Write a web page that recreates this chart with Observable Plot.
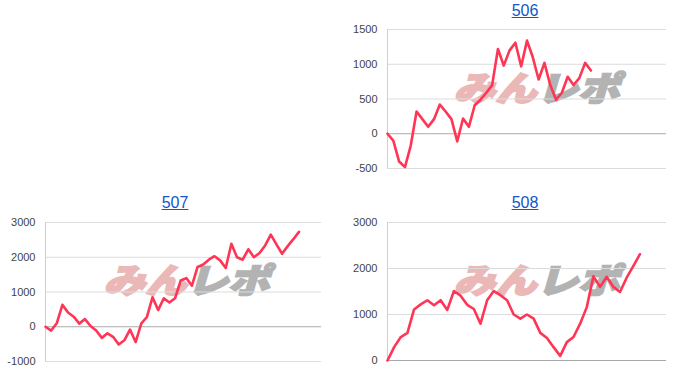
<!DOCTYPE html>
<html><head><meta charset="utf-8">
<script src="https://cdn.jsdelivr.net/npm/d3@7"></script>
<script src="https://cdn.jsdelivr.net/npm/@observablehq/plot@0.6"></script>
<style>
body{margin:0;background:#fff;font-family:"Liberation Sans",Arial,sans-serif;}
#grid{position:relative;width:700px;height:384px;overflow:hidden;}
.panel{position:absolute;width:350px;height:192px;}
.title{height:22px;line-height:22px;text-align:center;font-size:16px;position:relative;z-index:2;}
.title a{color:#1155cc;text-decoration:underline;}
.wm{position:absolute;left:108px;top:66px;z-index:0;white-space:nowrap;font-family:"Noto Sans CJK JP",sans-serif;font-weight:900;font-size:37px;line-height:40px;transform-origin:0 50%;transform:skewX(-16deg) scale(1.12,0.92);letter-spacing:0px;}
.wm .a{color:#ebb8b8;-webkit-text-stroke:2.2px #ebb8b8;}
.wm .b{color:#b3b3b3;-webkit-text-stroke:2.2px #b3b3b3;}
.chart{position:relative;z-index:1;}
</style></head>
<body>
<div id="grid"></div>
<script>
const titles = ["506", "507", "508"];
const chart506 = [0,-100,-400,-480,-170,320,210,100,210,420,320,210,-110,220,100,410,490,590,700,1220,980,1200,1310,970,1340,1100,780,1020,700,490,590,820,700,800,1020,910];
const chart507 = [0,-110,100,630,410,290,90,220,20,-110,-320,-190,-290,-510,-390,-80,-440,90,280,850,480,820,700,820,1330,1400,1180,1720,1790,1930,2030,1910,1690,2390,2000,1930,2230,2000,2120,2340,2650,2370,2100,2320,2520,2730];
const chart508 = [0,290,510,600,1110,1220,1310,1200,1310,1100,1510,1410,1210,1120,800,1310,1510,1420,1310,1000,910,1000,910,600,490,290,100,400,510,800,1160,1830,1600,1820,1600,1490,1800,2050,2310];
const ticks506 = [-500, 0, 500, 1000, 1500];
const ticks507 = [-1000, 0, 1000, 2000, 3000];
const ticks508 = [0, 1000, 2000, 3000];
const xMax506 = 48, xMax507 = 49, xMax508 = 42;
const watermarkA = "みん", watermarkB = "レポ";

const panels = [
  {title: titles[0], values: chart506, ticks: ticks506, xMax: xMax506, left: 350, top: 0, ml: 37, mr: 34, mt: 7, mb: 24},
  {title: titles[1], values: chart507, ticks: ticks507, xMax: xMax507, left: 0, top: 192, ml: 45, mr: 29, mt: 8, mb: 23},
  {title: titles[2], values: chart508, ticks: ticks508, xMax: xMax508, left: 350, top: 192, ml: 37, mr: 34, mt: 8, mb: 24}
];

const grid = document.getElementById("grid");
for (const p of panels) {
  const div = document.createElement("div");
  div.className = "panel";
  div.style.left = p.left + "px";
  div.style.top = p.top + "px";
  const t = document.createElement("div");
  t.className = "title";
  const a = document.createElement("a");
  a.href = "#";
  a.textContent = p.title;
  t.appendChild(a);
  div.appendChild(t);
  const wm = document.createElement("div");
  wm.className = "wm";
  wm.innerHTML = `<span class="a">${watermarkA}</span><span class="b">${watermarkB}</span>`;
  div.appendChild(wm);
  const yDomain = d3.extent(p.ticks);
  const svg = Plot.plot({
    width: 350, height: 170,
    marginLeft: p.ml, marginRight: p.mr, marginTop: p.mt, marginBottom: p.mb,
    style: {background: "transparent", fontFamily: "'Liberation Sans', Arial, sans-serif", fontSize: "11px", color: "#444", overflow: "visible"},
    x: {domain: [0, p.xMax], axis: null},
    y: {domain: yDomain, axis: null},
    marks: [
      Plot.ruleY(p.ticks.filter(v => v !== 0), {stroke: "#dcdcdc", strokeWidth: 1}),
      Plot.ruleX([0], {stroke: "#cfcfcf", strokeWidth: 1}),
      Plot.ruleY([0], {stroke: "#aaaaaa", strokeWidth: 1}),
      Plot.axisY(p.ticks, {tickSize: 0, tickPadding: 10, tickFormat: d => String(d), label: null, fill: "#444"}),
      Plot.lineY(p.values, {stroke: "#ff3556", strokeWidth: 2.6, strokeLinejoin: "round"})
    ]
  });
  const wrap = document.createElement("div");
  wrap.className = "chart";
  wrap.appendChild(svg);
  div.appendChild(wrap);
  grid.appendChild(div);
}
</script>
</body></html>
